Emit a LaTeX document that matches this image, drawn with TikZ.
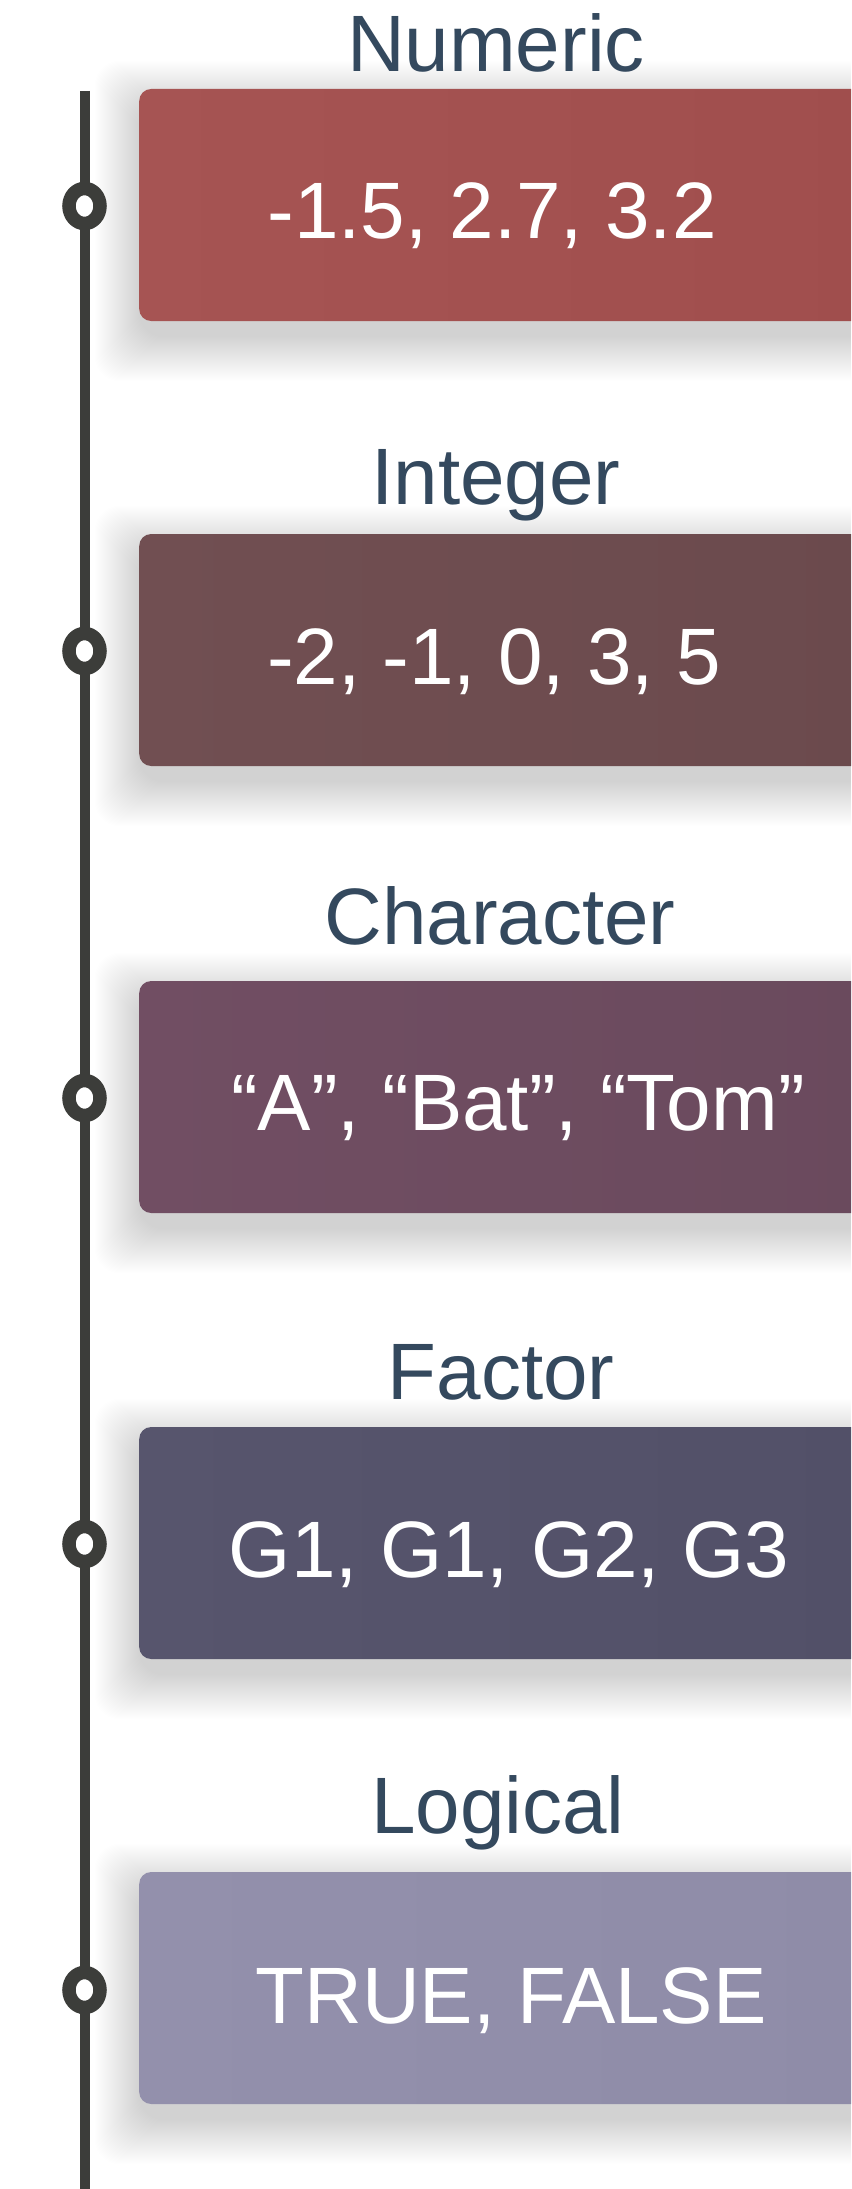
\documentclass[tikz,border=0pt]{standalone}
\usepackage{fontspec}
\setmainfont{Liberation Sans}
\usetikzlibrary{shapes.geometric}
\definecolor{titlec}{HTML}{34495E}
\definecolor{linec}{HTML}{3C3D3A}
\definecolor{cA}{HTML}{A04E4D}\definecolor{cAl}{HTML}{A65453}
\definecolor{cB}{HTML}{6B4A4D}\definecolor{cBl}{HTML}{714F52}
\definecolor{cC}{HTML}{6A4A5D}\definecolor{cCl}{HTML}{714E63}
\definecolor{cD}{HTML}{525068}\definecolor{cDl}{HTML}{57556D}
\definecolor{cE}{HTML}{8F8CA8}\definecolor{cEl}{HTML}{9390AC}
\tikzset{
  titletext/.style={anchor=base, text=titlec, font=\fontsize{80}{90}\selectfont, inner sep=0pt},
  valuetext/.style={anchor=base, text=white, font=\fontsize{80}{90}\selectfont, inner sep=0pt},
  marker/.style={ellipse, draw=linec, line width=13.5pt, fill=white, minimum width=31pt, minimum height=35pt, inner sep=0pt},
  typebox/.style={rectangle, rounded corners=12pt, minimum width=740pt, minimum height=232pt, inner sep=0pt, anchor=west},
  axisline/.style={draw=linec, line width=10pt},
  shadowlayer/.style={fill=black, opacity=0.0032, rounded corners=24pt}
}
\newcommand\myshadow[1]{%
  \foreach \i in {0,1,...,44}{%
    \path[shadowlayer] ({139-\i},{#1-100-\i}) rectangle ({900+\i},{#1+132+\i});
  }%
}
\begin{document}
\begin{tikzpicture}[x=1pt,y=-1pt]
\useasboundingbox (0,0) rectangle (851,2189);
\clip (0,0) rectangle (851,2189);
\fill[white] (0,0) rectangle (851,2189);
% shadows
\myshadow{205}
\myshadow{650}
\myshadow{1097}
\myshadow{1543}
\myshadow{1988}
% boxes
\node[typebox, left color=cAl, right color=cA] (b1) at (139,205) {};
\node[typebox, left color=cBl, right color=cB] (b2) at (139,650) {};
\node[typebox, left color=cCl, right color=cC] (b3) at (139,1097) {};
\node[typebox, left color=cDl, right color=cD] (b4) at (139,1543) {};
\node[typebox, left color=cEl, right color=cE] (b5) at (139,1988) {};
% timeline
\coordinate (ltop) at (84.5,91);
\coordinate (lbot) at (84.5,2200);
\draw[axisline] (ltop) -- (lbot);
\node[marker] (m1) at (84.5,206) {};
\node[marker] (m2) at (84.5,651) {};
\node[marker] (m3) at (84.5,1098) {};
\node[marker] (m4) at (84.5,1544) {};
\node[marker] (m5) at (84.5,1990) {};
% titles
\node[titletext] (t1) at (496,72) {Numeric};
\node[titletext] (t2) at (496,504) {Integer};
\node[titletext] (t3) at (500,944) {Character};
\node[titletext] (t4) at (501,1399) {Factor};
\node[titletext] (t5) at (498,1833) {Logical};
% values
\node[valuetext] (v1) at (492,238) {-1.5, 2.7, 3.2};
\node[valuetext] (v2) at (494,684) {-2, -1, 0, 3, 5};
\node[valuetext] (v3) at (518,1130) {“A”, “Bat”, “Tom”};
\node[valuetext] (v4) at (509,1577) {G1, G1, G2, G3};
\node[valuetext] (v5) at (511,2023) {TRUE, FALSE};
\end{tikzpicture}
\end{document}
